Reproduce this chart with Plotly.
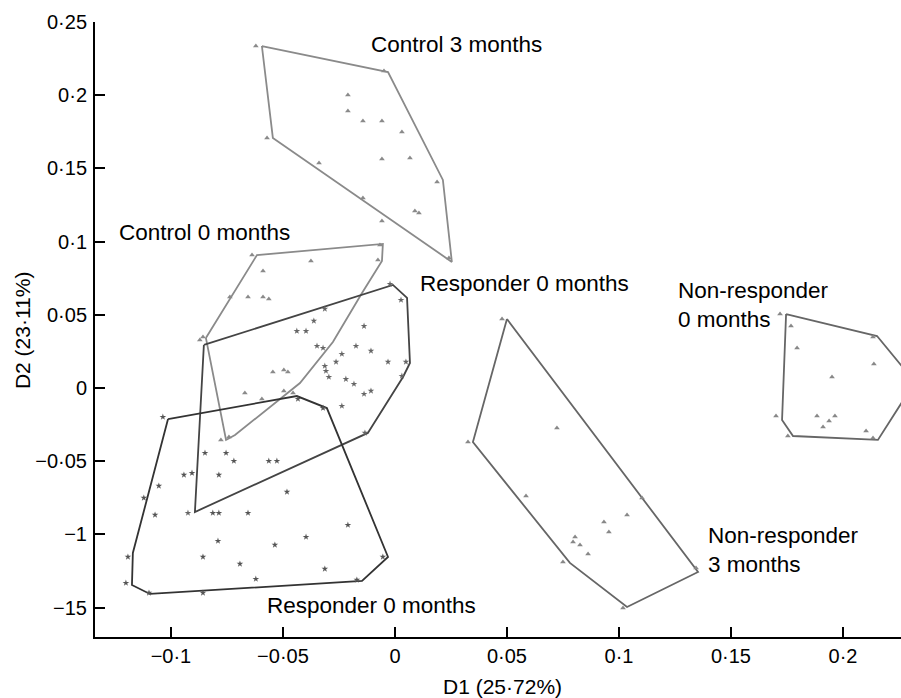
import plotly.graph_objects as go

# ---------------- data ----------------
ctrl3_x = [-0.0621, -0.0049, -0.0210, -0.0210, -0.0143, -0.0058, 0.0031, -0.0571, -0.0339,
           -0.0058, 0.0067, 0.0188, -0.0143, 0.0089, 0.0107, -0.0058, 0.0241]
ctrl3_y = [0.2336, 0.2165, 0.2001, 0.1892, 0.1824, 0.1824, 0.1749, 0.1708, 0.1537,
           0.1564, 0.1571, 0.1407, 0.1298, 0.1209, 0.1195, 0.1141, 0.0888]
ctrl3_hull_x = [-0.0594, -0.0031, 0.0214, 0.0254, -0.0545]
ctrl3_hull_y = [0.2336, 0.2158, 0.1421, 0.0861, 0.1708]

ctrl0_x = [-0.0638, -0.0375, -0.0076, -0.0067, -0.0589, -0.0737, -0.0656, -0.0589, -0.0563, -0.0871,
           -0.0857, -0.0545, -0.0496, -0.0478, -0.0670, -0.0594, -0.0496, -0.0455, -0.0777, -0.0741]
ctrl0_y = [0.0908, 0.0867, 0.0874, 0.0977, 0.0799, 0.0622, 0.0622, 0.0622, 0.0608, 0.0328,
           0.0348, 0.0109, 0.0123, 0.0109, -0.0034, -0.0075, -0.0020, -0.0034, -0.0355, -0.0335]
ctrl0_hull_x = [-0.0844, -0.0616, -0.0054, -0.0058, -0.0147, -0.0277, -0.0424, -0.0545, -0.0714, -0.0754]
ctrl0_hull_y = [0.0342, 0.0908, 0.0984, 0.0867, 0.0649, 0.0314, 0.0034, -0.0116, -0.0321, -0.0355]

resp0_x = [-0.0022, 0.0027, -0.0313, -0.0362, -0.0138, -0.0438, -0.0397, -0.0348, -0.0321, -0.0174,
           -0.0107, -0.0237, -0.0263, -0.0313, -0.0308, -0.0295, -0.0031, 0.0049, 0.0031, -0.0219,
           -0.0183, -0.0107, -0.0138, -0.0237, -0.0134, -0.0924]
resp0_y = [0.0710, 0.0601, 0.0540, 0.0458, 0.0423, 0.0389, 0.0389, 0.0287, 0.0273, 0.0287,
           0.0253, 0.0232, 0.0178, 0.0150, 0.0116, 0.0075, 0.0178, 0.0178, 0.0082, 0.0061,
           0.0027, -0.0020, -0.0041, -0.0123, -0.0307, -0.0854]
resp0_hull_x = [-0.0853, -0.0009, 0.0054, 0.0067, 0.0036, -0.0121, -0.0893]
resp0_hull_y = [0.0294, 0.0704, 0.0615, 0.0171, 0.0075, -0.0307, -0.0847]

resp3_x = [-0.1036, -0.0848, -0.0754, -0.0719, -0.0563, -0.0527, -0.0942, -0.0906, -0.0786, -0.1054,
           -0.1121, -0.0482, -0.0813, -0.0786, -0.0656, -0.1071, -0.0210, -0.0397, -0.0790, -0.0536,
           -0.1192, -0.0857, -0.0692, -0.0054, -0.0313, -0.0621, -0.1201, -0.1098, -0.0857, -0.0170,
           -0.0433, -0.0321]
resp3_y = [-0.0198, -0.0444, -0.0444, -0.0499, -0.0499, -0.0499, -0.0594, -0.0581, -0.0594, -0.0669,
           -0.0751, -0.0710, -0.0854, -0.0854, -0.0854, -0.0867, -0.0936, -0.1018, -0.1045, -0.1072,
           -0.1154, -0.1154, -0.1202, -0.1154, -0.1236, -0.1305, -0.1332, -0.1400, -0.1400, -0.1311,
           -0.0075, -0.0137]
resp3_hull_x = [-0.1013, -0.0438, -0.0304, -0.0031, -0.0147, -0.1094, -0.1174, -0.1170]
resp3_hull_y = [-0.0212, -0.0055, -0.0137, -0.1154, -0.1318, -0.1407, -0.1346, -0.1127]

nr3_x = [0.0478, 0.0326, 0.0723, 0.0585, 0.1103, 0.1036, 0.0933, 0.0955, 0.0804, 0.0795,
         0.0826, 0.0862, 0.0750, 0.1344, 0.1018]
nr3_y = [0.0471, -0.0369, -0.0273, -0.0738, -0.0751, -0.0867, -0.0915, -0.0984, -0.1018, -0.1052,
         -0.1072, -0.1134, -0.1189, -0.1230, -0.1503]
nr3_hull_x = [0.0500, 0.1353, 0.1036, 0.0781, 0.0348]
nr3_hull_y = [0.0471, -0.1257, -0.1496, -0.1195, -0.0369]

nr0_x = [0.1719, 0.1768, 0.1795, 0.2134, 0.2138, 0.1951, 0.1701, 0.1884, 0.1964, 0.1938,
         0.1911, 0.2103, 0.1754, 0.2134]
nr0_y = [0.0505, 0.0423, 0.0273, 0.0348, 0.0164, 0.0075, -0.0191, -0.0191, -0.0191, -0.0225,
         -0.0266, -0.0294, -0.0328, -0.0342]
nr0_hull_x = [0.1746, 0.2152, 0.2321, 0.2156, 0.1777, 0.1728]
nr0_hull_y = [0.0505, 0.0355, 0.0041, -0.0355, -0.0328, -0.0219]

x_tick_vals = [-0.1, -0.05, 0, 0.05, 0.1, 0.15, 0.2]
x_tick_text = ["\u22120\u00b71", "\u22120\u00b705", "0", "0\u00b705", "0\u00b71", "0\u00b715", "0\u00b72"]
y_tick_vals = [-0.15, -0.1, -0.05, 0, 0.05, 0.1, 0.15, 0.2, 0.25]
y_tick_text = ["\u221215", "\u22121", "\u22120\u00b705", "0", "0\u00b705", "0\u00b71", "0\u00b715", "0\u00b72", "0\u00b725"]

group_labels = ["Control 3 months", "Control 0 months", "Responder 0 months",
                "Non-responder<br>0 months", "Responder 0 months", "Non-responder<br>3 months"]
label_x = [-0.0116, -0.1241, 0.0103, 0.1254, -0.0580, 0.1388]
label_y = [0.2343, 0.1059, 0.0717, 0.0567, -0.1489, -0.1107]

x_title = "D1 (25\u00b772%)"
y_title = "D2 (23\u00b711%)"

# ---------------- figure ----------------
FONT = "Liberation Sans, Arial, Helvetica, sans-serif"
fig = go.Figure()

groups = [
    (ctrl3_x, ctrl3_y, ctrl3_hull_x, ctrl3_hull_y, "#8a8a8a", "triangle-up", "#8a8a8a"),
    (ctrl0_x, ctrl0_y, ctrl0_hull_x, ctrl0_hull_y, "#8a8a8a", "triangle-up", "#8a8a8a"),
    (resp0_x, resp0_y, resp0_hull_x, resp0_hull_y, "#444444", "star", "#666666"),
    (resp3_x, resp3_y, resp3_hull_x, resp3_hull_y, "#333333", "star", "#555555"),
    (nr3_x, nr3_y, nr3_hull_x, nr3_hull_y, "#666666", "triangle-up", "#888888"),
    (nr0_x, nr0_y, nr0_hull_x, nr0_hull_y, "#666666", "triangle-up", "#888888"),
]
for px, py, hx, hy, lc, sym, mc in groups:
    fig.add_trace(go.Scatter(x=list(hx) + [hx[0]], y=list(hy) + [hy[0]], mode="lines",
                             line=dict(color=lc, width=1.8), hoverinfo="skip", showlegend=False))
    fig.add_trace(go.Scatter(x=px, y=py, mode="markers",
                             marker=dict(symbol=sym, size=5, color=mc, line=dict(width=0)),
                             showlegend=False))

for t, lx, ly in zip(group_labels, label_x, label_y):
    fig.add_annotation(x=lx, y=ly, xref="x", yref="y", text=t, showarrow=False,
                       xanchor="left", yanchor="middle", align="left",
                       font=dict(family=FONT, size=22.5, color="black"))

fig.add_annotation(x=0.506, y=-0.081, xref="paper", yref="paper", text=x_title, showarrow=False,
                   xanchor="center", yanchor="middle", font=dict(family=FONT, size=21, color="black"))
fig.add_annotation(x=-0.0906, y=0.499, xref="paper", yref="paper", text=y_title, showarrow=False,
                   textangle=-90, xanchor="center", yanchor="middle",
                   font=dict(family=FONT, size=21, color="black"))

fig.update_layout(
    width=901, height=698, autosize=False,
    margin=dict(l=95, r=0, t=22, b=61, autoexpand=False),
    plot_bgcolor="white", paper_bgcolor="white",
    font=dict(family=FONT, size=20, color="black"),
    showlegend=False,
)
fig.update_xaxes(range=[-0.1339, 0.2259], tickvals=x_tick_vals, ticktext=x_tick_text,
                 showgrid=False, zeroline=False, showline=True, linecolor="black", linewidth=2,
                 ticks="inside", ticklen=10, tickwidth=2, tickcolor="black", automargin=False,
                 tickfont=dict(family=FONT, size=20, color="black"), ticklabelstandoff=0)
fig.update_yaxes(range=[-0.1701, 0.25], tickvals=y_tick_vals, ticktext=y_tick_text,
                 showgrid=False, zeroline=False, showline=True, linecolor="black", linewidth=2,
                 ticks="inside", ticklen=10, tickwidth=2, tickcolor="black", automargin=False,
                 tickfont=dict(family=FONT, size=20, color="black"), ticklabelstandoff=2)

fig.write_html("out.html", config={"displayModeBar": False},
               post_script="document.body.style.margin='0';")
